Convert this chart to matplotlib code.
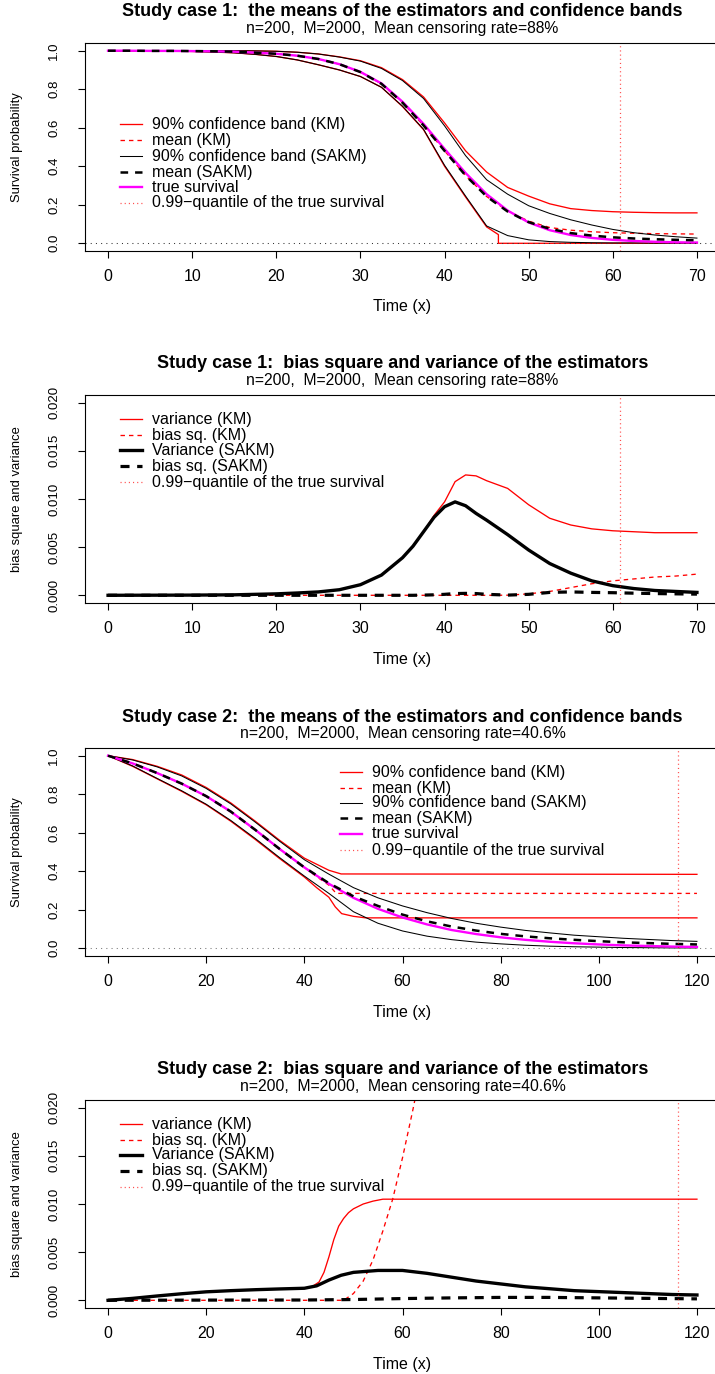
import matplotlib
matplotlib.use('Agg')
import matplotlib.pyplot as plt

plt.rcParams['font.family'] = ['Liberation Sans', 'DejaVu Sans']
plt.rcParams['lines.scale_dashes'] = False

# ---------------- study case 1: survival curves ----------------
x1 = [0, 2.5, 5, 7.5, 10, 12.5, 15, 17.5, 20, 22.5, 25, 27.5, 30, 32.5, 35,
      37.5, 40, 42.5, 45, 47.5, 50, 52.5, 55, 57.5, 60, 62.5, 65, 67.5, 70]
true_s1 = [1.000, 1.000, 0.999, 0.999, 0.998, 0.997, 0.995, 0.990, 0.984, 0.974,
           0.957, 0.930, 0.890, 0.830, 0.735, 0.620, 0.490, 0.365, 0.255, 0.170,
           0.108, 0.068, 0.043, 0.028, 0.018, 0.012, 0.008, 0.005, 0.004]
sakm_mean1 = [1.000, 1.000, 0.999, 0.999, 0.998, 0.997, 0.995, 0.990, 0.984, 0.974,
              0.957, 0.930, 0.889, 0.828, 0.730, 0.612, 0.480, 0.352, 0.243, 0.165,
              0.110, 0.075, 0.053, 0.040, 0.031, 0.025, 0.021, 0.018, 0.016]
km_mean1 = [1.000, 1.000, 0.999, 0.999, 0.998, 0.997, 0.995, 0.990, 0.984, 0.974,
            0.957, 0.930, 0.889, 0.828, 0.730, 0.612, 0.480, 0.352, 0.243, 0.168,
            0.115, 0.082, 0.068, 0.060, 0.055, 0.052, 0.050, 0.049, 0.048]
km_up1 = [1.000, 1.000, 1.000, 1.000, 1.000, 1.000, 1.000, 0.999, 0.997, 0.992,
          0.983, 0.968, 0.948, 0.912, 0.850, 0.760, 0.625, 0.480, 0.370, 0.290,
          0.245, 0.205, 0.180, 0.170, 0.164, 0.161, 0.159, 0.158, 0.158]
sakm_up1 = [1.000, 1.000, 1.000, 1.000, 1.000, 1.000, 1.000, 0.999, 0.997, 0.992,
            0.983, 0.967, 0.946, 0.908, 0.845, 0.752, 0.610, 0.455, 0.330, 0.255,
            0.195, 0.155, 0.122, 0.095, 0.072, 0.055, 0.043, 0.034, 0.027]
x1_km_lo = [0, 2.5, 5, 7.5, 10, 12.5, 15, 17.5, 20, 22.5, 25, 27.5, 30, 32.5, 35,
            37.5, 40, 42.5, 45, 46.4, 46.4, 70]
km_lo1 = [1.000, 1.000, 1.000, 0.998, 0.996, 0.993, 0.989, 0.981, 0.970, 0.952,
          0.927, 0.900, 0.866, 0.810, 0.710, 0.590, 0.400, 0.240, 0.085, 0.045,
          0.000, 0.000]
sakm_lo1 = [1.000, 1.000, 1.000, 0.998, 0.996, 0.993, 0.989, 0.981, 0.970, 0.952,
            0.927, 0.900, 0.866, 0.810, 0.712, 0.592, 0.405, 0.245, 0.090, 0.040,
            0.018, 0.009, 0.005, 0.003, 0.002, 0.002, 0.001, 0.001, 0.001]
q99_1 = 60.8

# ---------------- study case 1: bias square / variance ----------------
x2 = [0, 5, 10, 15, 20, 22.5, 25, 27.5, 30, 32.5, 35, 36.25, 37.5, 38.75, 40,
      41.25, 42.5, 43.75, 45, 47.5, 50, 52.5, 55, 57.5, 60, 62.5, 65, 67.5, 70]
var_sakm2 = [0.00000, 0.00001, 0.00002, 0.00005, 0.00015, 0.00024, 0.00035, 0.00058,
             0.0011, 0.0021, 0.0039, 0.0051, 0.0066, 0.0081, 0.0092, 0.0097, 0.0093,
             0.0085, 0.0078, 0.0063, 0.0047, 0.0033, 0.0023, 0.0015, 0.0010, 0.0007,
             0.0005, 0.0004, 0.0003]
var_km2 = [0.00000, 0.00001, 0.00002, 0.00005, 0.00015, 0.00024, 0.00035, 0.00058,
           0.0011, 0.0021, 0.0039, 0.0051, 0.0066, 0.0083, 0.0097, 0.0118, 0.0125,
           0.0124, 0.0119, 0.0111, 0.0094, 0.0080, 0.0073, 0.0069, 0.0067, 0.0066,
           0.0065, 0.0065, 0.0065]
bias_km2 = [0, 0, 0, 0, 0, 0, 0, 0, 0, 0, 0, 0, 0, 0, 0, 0, 0, 0, 0, 0.00001,
            0.00015, 0.0004, 0.0008, 0.0012, 0.0015, 0.0017, 0.0019, 0.0020, 0.0022]
bias_sakm2 = [0, 0, 0, 0, 0, 0, 0, 0, 0, 0, 0, 0, 0.00002, 0.00005, 0.0001, 0.00018,
              0.0002, 0.00018, 0.0001, 0.00002, 0.0001, 0.0003, 0.00035, 0.0003,
              0.00027, 0.00022, 0.00018, 0.00015, 0.00012]

# ---------------- study case 2: survival curves ----------------
x3 = [0, 5, 10, 15, 20, 25, 30, 35, 40, 45, 50, 55, 60, 65, 70, 75, 80, 85, 90,
      95, 100, 105, 110, 115, 120]
true_s3 = [1.0, 0.96, 0.91, 0.855, 0.79, 0.71, 0.615, 0.515, 0.42, 0.335, 0.262,
           0.205, 0.16, 0.124, 0.095, 0.074, 0.057, 0.044, 0.034, 0.026, 0.02,
           0.015, 0.012, 0.009, 0.007]
sakm_mean3 = [1.0, 0.96, 0.91, 0.855, 0.79, 0.71, 0.615, 0.515, 0.42, 0.338, 0.27,
              0.22, 0.175, 0.14, 0.113, 0.092, 0.075, 0.062, 0.052, 0.044, 0.037,
              0.031, 0.027, 0.023, 0.020]
sakm_up3 = [1.0, 0.978, 0.942, 0.895, 0.83, 0.75, 0.655, 0.555, 0.46, 0.385, 0.315,
            0.262, 0.22, 0.185, 0.155, 0.13, 0.11, 0.093, 0.08, 0.068, 0.06, 0.052,
            0.046, 0.04, 0.036]
sakm_lo3 = [1.0, 0.947, 0.882, 0.818, 0.748, 0.664, 0.57, 0.47, 0.375, 0.285, 0.19,
            0.13, 0.09, 0.063, 0.045, 0.032, 0.023, 0.016, 0.011, 0.008, 0.006,
            0.004, 0.003, 0.002, 0.002]
x3_km_mean = [0, 5, 10, 15, 20, 25, 30, 35, 40, 42.5, 45, 46.5, 120]
km_mean3 = [1.0, 0.96, 0.91, 0.855, 0.79, 0.71, 0.615, 0.515, 0.42, 0.372, 0.328,
            0.285, 0.285]
x3_km_up = [0, 5, 10, 15, 20, 25, 30, 35, 40, 45, 47.5, 120]
km_up3 = [1.0, 0.98, 0.945, 0.9, 0.835, 0.755, 0.66, 0.56, 0.468, 0.405, 0.386, 0.384]
x3_km_lo = [0, 5, 10, 15, 20, 25, 30, 35, 40, 42.5, 45, 46.3, 47.6, 50, 52.5, 120]
km_lo3 = [1.0, 0.945, 0.88, 0.815, 0.745, 0.66, 0.565, 0.465, 0.37, 0.315, 0.265,
          0.215, 0.18, 0.166, 0.158, 0.158]
q99_3 = 116.1

# ---------------- study case 2: bias square / variance ----------------
x4 = [0, 5, 10, 15, 20, 25, 30, 35, 40, 42.5, 45, 47.5, 50, 55, 60, 65, 70, 75,
      80, 85, 90, 95, 100, 105, 110, 115, 120]
var_sakm4 = [0, 0.0002, 0.00045, 0.00068, 0.00088, 0.001, 0.0011, 0.00118, 0.00125,
             0.0015, 0.0021, 0.0026, 0.0029, 0.0031, 0.0031, 0.0028, 0.0024, 0.002,
             0.0017, 0.0014, 0.0012, 0.001, 0.0009, 0.0008, 0.0007, 0.0006, 0.00055]
x4_var_km = [0, 5, 10, 15, 20, 25, 30, 35, 40, 41.5, 43, 44, 45, 46, 47, 48, 49,
             50, 52, 54, 56, 58, 120]
var_km4 = [0, 0.0002, 0.00045, 0.00068, 0.00088, 0.001, 0.0011, 0.00118, 0.00125,
           0.0014, 0.0019, 0.0029, 0.0045, 0.0063, 0.0077, 0.0085, 0.0091, 0.0095,
           0.0100, 0.0103, 0.0105, 0.0105, 0.0105]
x4_bias_km = [0, 48, 50, 52, 54, 56, 58, 60, 62, 64]
bias_km4 = [0, 0, 0.0007, 0.002, 0.0042, 0.0072, 0.0105, 0.0148, 0.0195, 0.0245]
x4_bias_sakm = [0, 20, 40, 50, 60, 70, 80, 90, 100, 110, 120]
bias_sakm4 = [0, 0.00002, 0.00003, 0.00008, 0.00018, 0.00025, 0.0003, 0.0003,
              0.00025, 0.0002, 0.00015]

# ---------------- text ----------------
titles = ['Study case 1:  the means of the estimators and confidence bands',
          'Study case 1:  bias square and variance of the estimators',
          'Study case 2:  the means of the estimators and confidence bands',
          'Study case 2:  bias square and variance of the estimators']
subtitles = ['n=200,  M=2000,  Mean censoring rate=88%',
             'n=200,  M=2000,  Mean censoring rate=88%',
             'n=200,  M=2000,  Mean censoring rate=40.6%',
             'n=200,  M=2000,  Mean censoring rate=40.6%']
surv_ticks = [0.0, 0.2, 0.4, 0.6, 0.8, 1.0]
surv_ticklabels = ['0.0', '0.2', '0.4', '0.6', '0.8', '1.0']
mse_ticks = [0.000, 0.005, 0.010, 0.015, 0.020]
mse_ticklabels = ['0.000', '0.005', '0.010', '0.015', '0.020']
x_ticks1 = [0, 10, 20, 30, 40, 50, 60, 70]
x_ticks2 = [0, 20, 40, 60, 80, 100, 120]
quant_label = '0.99\u2212quantile of the true survival'

# ---------------- styles ----------------
W, H = 715, 1374
RED, MAG = '#ff0000', '#ff00ff'
red_solid = dict(color=RED, lw=0.95)
red_dash = dict(color=RED, lw=0.95, dashes=(3.2, 2.9))
red_dot = dict(color=RED, lw=0.9, dashes=(0.8, 2.2), alpha=0.7)
blk_solid = dict(color='black', lw=0.75)
blk_dash = dict(color='black', lw=1.8, dashes=(5.5, 5.0))
blk_thick = dict(color='black', lw=2.4)
blk_thick_dash = dict(color='black', lw=2.3, dashes=(6.5, 5.5))
mag_line = dict(color=MAG, lw=1.7)


def make_axes(fig, top, idx):
    # axes box in pixels: left 84.5, right 720.5 (runs past the right edge)
    ax = fig.add_axes([84.5 / W, 1 - (top + 251) / H, 636 / W, 208 / H])
    for s in ax.spines.values():
        s.set_linewidth(0.8)
    ax.tick_params(direction='out', length=5, width=0.8)
    ax.tick_params(axis='x', labelsize=11.4, pad=8.0)
    ax.tick_params(axis='y', labelsize=9.5, pad=12.5)
    fig.text(402.5 / W, 1 - (top + 12) / H, titles[idx],
             ha='center', va='center', fontsize=13, fontweight='bold')
    fig.text(402.5 / W, 1 - (top + 29) / H, subtitles[idx],
             ha='center', va='center', fontsize=11.3)
    ax.text(0.5, -(307 - 251) / 208, 'Time (x)', transform=ax.transAxes,
            ha='center', va='center', fontsize=11.5)
    return ax


def set_ylabel(ax, text):
    ax.text((17 - 84.5) / 636, 0.5, text, transform=ax.transAxes, rotation=90,
            ha='center', va='center', fontsize=9.4)


def draw_legend(ax, entries, x_px, y_rows):
    # hand-placed legend, R style (no box)
    for (label, style), yr in zip(entries, y_rows):
        y = 1 - yr / 208
        ax.plot([(x_px - 84.5) / 636, (x_px + 22 - 84.5) / 636], [y, y],
                transform=ax.transAxes, clip_on=False, **style)
        ax.text((x_px + 32 - 84.5) / 636, y, label, transform=ax.transAxes,
                ha='left', va='center', fontsize=11.5)


surv_entries = [('90% confidence band (KM)', red_solid),
                ('mean (KM)', red_dash),
                ('90% confidence band (SAKM)', blk_solid),
                ('mean (SAKM)', blk_dash),
                ('true survival', mag_line),
                (quant_label, red_dot)]
mse_entries = [('variance (KM)', red_solid),
               ('bias sq. (KM)', red_dash),
               ('Variance (SAKM)', blk_thick),
               ('bias sq. (SAKM)', blk_thick_dash),
               (quant_label, red_dot)]

fig = plt.figure(figsize=(W / 100, H / 100), dpi=100)

# panel 1
ax = make_axes(fig, 0, 0)
ax.plot(x1, km_up1, **red_solid)
ax.plot(x1_km_lo, km_lo1, **red_solid)
ax.plot(x1, km_mean1, **red_dash)
ax.plot(x1, sakm_up1, **blk_solid)
ax.plot(x1, sakm_lo1, **blk_solid)
ax.plot(x1, true_s1, **mag_line)
ax.plot(x1, sakm_mean1, **blk_dash)
ax.axvline(q99_1, **red_dot)
ax.axhline(0, color='#333333', lw=0.75, dashes=(0.75, 3.0))
ax.set_xlim(-2.8, 72.8)
ax.set_ylim(-0.04, 1.04)
ax.set_xticks(x_ticks1)
ax.set_yticks(surv_ticks, surv_ticklabels, rotation=90, va='center')
set_ylabel(ax, 'Survival probability')
draw_legend(ax, surv_entries, 120, [81, 97, 113, 129, 144, 160])

# panel 2
ax = make_axes(fig, 352, 1)
ax.plot(x2, var_km2, **red_solid)
ax.plot(x2, bias_km2, **red_dash)
ax.plot(x2, var_sakm2, **blk_thick)
ax.plot(x2, bias_sakm2, **blk_thick_dash)
ax.axvline(q99_1, **red_dot)
ax.set_xlim(-2.8, 72.8)
ax.set_ylim(-0.0008, 0.0208)
ax.set_xticks(x_ticks1)
ax.set_yticks(mse_ticks, mse_ticklabels, rotation=90, va='center')
set_ylabel(ax, 'bias square and variance')
draw_legend(ax, mse_entries, 120, [24, 40, 55, 71, 87])

# panel 3
ax = make_axes(fig, 705, 2)
ax.plot(x3_km_up, km_up3, **red_solid)
ax.plot(x3_km_lo, km_lo3, **red_solid)
ax.plot(x3_km_mean, km_mean3, **red_dash)
ax.plot(x3, sakm_up3, **blk_solid)
ax.plot(x3, sakm_lo3, **blk_solid)
ax.plot(x3, true_s3, **mag_line)
ax.plot(x3, sakm_mean3, **blk_dash)
ax.axvline(q99_3, **red_dot)
ax.axhline(0, color='#777777', lw=0.75, dashes=(0.75, 3.0))
ax.set_xlim(-4.8, 124.8)
ax.set_ylim(-0.04, 1.04)
ax.set_xticks(x_ticks2)
ax.set_yticks(surv_ticks, surv_ticklabels, rotation=90, va='center')
set_ylabel(ax, 'Survival probability')
draw_legend(ax, surv_entries, 340, [24, 40, 55, 70, 86, 102])

# panel 4
ax = make_axes(fig, 1057, 3)
ax.plot(x4_var_km, var_km4, **red_solid)
ax.plot(x4_bias_km, bias_km4, **red_dash)
ax.plot(x4, var_sakm4, **blk_thick)
ax.plot(x4_bias_sakm, bias_sakm4, **blk_thick_dash)
ax.axvline(q99_3, **red_dot)
ax.set_xlim(-4.8, 124.8)
ax.set_ylim(-0.0008, 0.0208)
ax.set_xticks(x_ticks2)
ax.set_yticks(mse_ticks, mse_ticklabels, rotation=90, va='center')
set_ylabel(ax, 'bias square and variance')
draw_legend(ax, mse_entries, 120, [24, 40, 55, 71, 87])

fig.savefig('out.png', dpi=100)
plt.close(fig)
